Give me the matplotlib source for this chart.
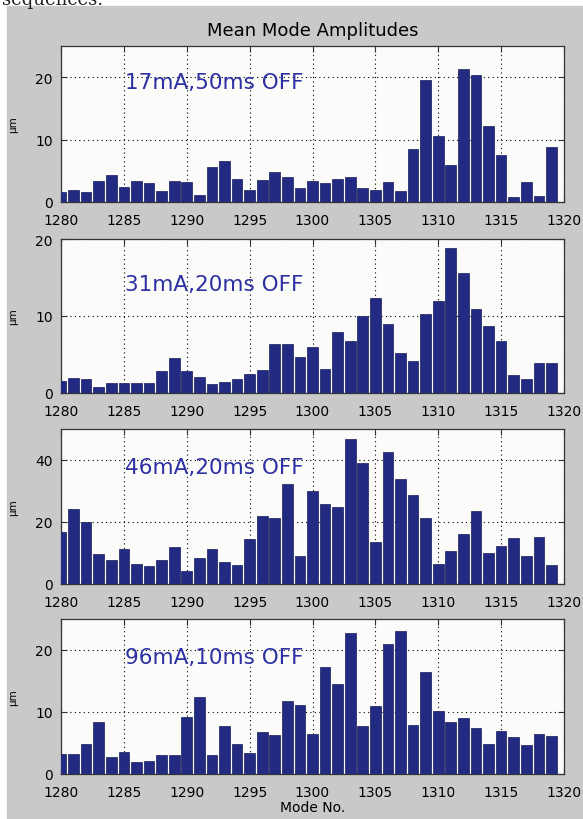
import matplotlib.pyplot as plt
import numpy as np
from matplotlib.patches import Rectangle

modes = np.arange(1280, 1320)

amp_17mA = [1.6, 2.0, 1.6, 3.4, 4.3, 2.4, 3.4, 3.0, 1.8, 3.4,
            3.2, 1.2, 5.6, 6.6, 3.7, 2.0, 3.6, 4.8, 4.0, 2.2,
            3.4, 3.0, 3.7, 4.0, 2.2, 2.0, 3.2, 1.8, 8.5, 19.6,
            10.6, 6.0, 21.3, 20.3, 12.2, 7.6, 0.75, 3.2, 1.0, 8.8]
amp_31mA = [1.6, 2.0, 1.8, 0.8, 1.3, 1.3, 1.3, 1.3, 2.9, 4.6,
            2.8, 2.1, 1.2, 1.4, 1.8, 2.5, 3.0, 6.3, 6.3, 4.7,
            6.0, 3.1, 7.9, 6.8, 10.0, 12.4, 8.9, 5.2, 4.2, 10.3,
            12.0, 18.8, 15.6, 10.9, 8.7, 6.7, 2.3, 1.8, 3.9, 3.9]
amp_46mA = [16.8, 24.2, 19.9, 9.8, 7.7, 11.4, 6.6, 5.8, 7.7, 11.8,
            4.1, 8.5, 11.4, 7.1, 6.2, 14.5, 21.8, 21.2, 32.2, 9.0,
            29.9, 25.9, 24.8, 46.7, 39.0, 13.4, 42.7, 33.8, 28.6, 21.4,
            6.6, 10.5, 16.1, 23.5, 9.9, 12.3, 14.7, 9.0, 15.3, 6.2]
amp_96mA = [3.2, 3.2, 4.8, 8.4, 2.8, 3.5, 1.9, 2.1, 3.1, 3.1,
            9.2, 12.5, 3.1, 7.7, 4.8, 3.4, 6.8, 6.3, 11.8, 11.2,
            6.5, 17.3, 14.5, 22.7, 7.7, 11.0, 21.0, 23.1, 7.9, 16.5,
            10.1, 8.4, 9.0, 7.5, 4.8, 6.9, 5.9, 4.7, 6.5, 6.1]

labels = ['17mA,50ms OFF', '31mA,20ms OFF', '46mA,20ms OFF', '96mA,10ms OFF']
series = [amp_17mA, amp_31mA, amp_46mA, amp_96mA]
ylims = [25, 20, 50, 25]
yticks = [[0, 10, 20], [0, 10, 20], [0, 20, 40], [0, 10, 20]]
label_y = [19.2, 14.1, 37.8, 18.8]
xticks = np.arange(1280, 1321, 5)

W, H = 583, 820
fig = plt.figure(figsize=(W / 100, H / 100), dpi=100, facecolor='white')
fig.patches.append(Rectangle((7 / W, 0), 1 - 7 / W, 1 - 7 / H,
                             transform=fig.transFigure, color='#c9c9c9', zorder=-10))
fig.text(0.004, 1.0, 'sequences.', family='DejaVu Serif', fontsize=13,
         va='center', ha='left', color='#222222')

# axes boxes in pixels: (top, bottom)
boxes = [(47, 203), (240, 394), (430, 585), (620, 775)]
left, right = 61, 564

for i, (vals, lab) in enumerate(zip(series, labels)):
    top, bot = boxes[i]
    ax = fig.add_axes([left / W, 1 - bot / H, (right - left) / W, (bot - top) / H])
    ax.set_facecolor('#fbfbf9')
    ax.bar(modes, vals, width=0.85, color='#232a82', edgecolor='#161a5c',
           linewidth=0.5, zorder=3)
    ax.set_xlim(1280, 1320)
    ax.set_ylim(0, ylims[i])
    ax.set_xticks(xticks)
    ax.set_yticks(yticks[i])
    ax.grid(True, color='black', linestyle=(0, (1, 3)), linewidth=0.8, zorder=1)
    ax.tick_params(direction='in', top=True, right=True, length=4,
                   labelsize=10, color='#333333')
    ax.tick_params(axis='x', pad=8)
    ax.tick_params(axis='y', pad=6)
    for s in ax.spines.values():
        s.set_color('#333333')
        s.set_linewidth(0.9)
    ax.set_ylabel('µm', fontsize=7.5, labelpad=0)
    ax.yaxis.set_label_coords(-0.085, 0.5)
    ax.text(1285.1, label_y[i], lab, fontsize=15.5, color='#2c30a2',
            va='center', ha='left', zorder=4)
    if i == 0:
        ax.set_title('Mean Mode Amplitudes', fontsize=13, pad=8)
    if i == 3:
        ax.set_xlabel('Mode No.', fontsize=10, labelpad=1)

fig.savefig('out.png', dpi=100, facecolor=fig.get_facecolor())
